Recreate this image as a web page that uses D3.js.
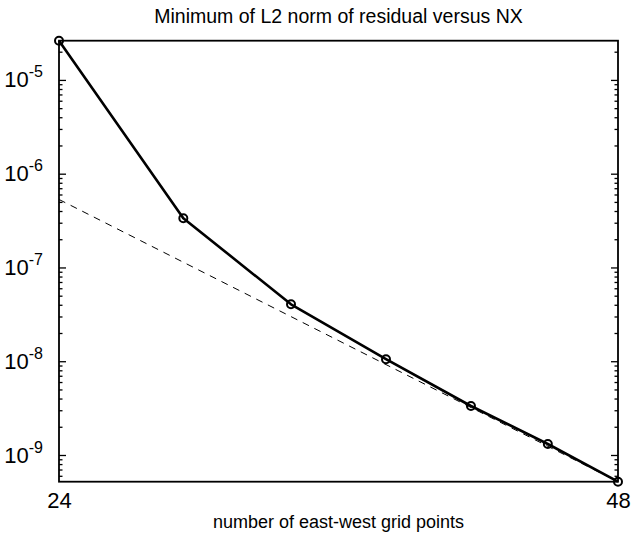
<!DOCTYPE html>
<html>
<head>
<meta charset="utf-8">
<script src="https://cdn.jsdelivr.net/npm/d3@7"></script>
<style>
  body { margin: 0; background: #fff; }
  svg { display: block; font-family: "Liberation Sans", Arial, sans-serif; }
</style>
</head>
<body>
<figure id="chart" style="margin:0"></figure>
<script>
// data
const nx = [24, 28, 32, 36, 40, 44, 48];
const residual = [2.62e-5, 3.35e-7, 4.05e-8, 1.05e-8, 3.33e-9, 1.31e-9, 5.19e-10];
// reference slope line (~ NX^-10)
const refNx = [24, 48];
const refResidual = [5.31e-7, 5.19e-10];
const xTicks = [24, 48];
const yMajorTicks = [1e-9, 1e-8, 1e-7, 1e-6, 1e-5];
const titleText = 'Minimum of L2 norm of residual versus NX';
const xLabelText = 'number of east-west grid points';

const W = 632, H = 537;
const margin = { top: 40.7, right: 14, bottom: 55.3, left: 59 };
const width = W - margin.left - margin.right;
const height = H - margin.top - margin.bottom;

const svg = d3.select('figure#chart')
  .append('svg')
  .attr('width', W)
  .attr('height', H);

const g = svg.append('g')
  .attr('transform', 'translate(' + margin.left + ',' + margin.top + ')');

const x = d3.scaleLog()
  .domain([24, 48])
  .range([0, width]);

const y = d3.scaleLog()
  .domain([d3.min(residual), d3.max(residual)])
  .range([height, 0]);

// minor ticks 2..9 within the domain
const yMinorTicks = [];
for (let e = -10; e <= -4; e++) {
  for (let k = 2; k <= 9; k++) {
    const v = k * Math.pow(10, e);
    if (v >= y.domain()[0] && v <= y.domain()[1]) yMinorTicks.push(v);
  }
}

// minor ticks, both sides, pointing inwards
g.append('g')
  .call(d3.axisLeft(y).tickValues(yMinorTicks).tickSizeInner(-3.5).tickSizeOuter(0).tickFormat(''))
  .call(a => a.select('.domain').remove());
g.append('g')
  .attr('transform', 'translate(' + width + ',0)')
  .call(d3.axisRight(y).tickValues(yMinorTicks).tickSizeInner(-3.5).tickSizeOuter(0).tickFormat(''))
  .call(a => a.select('.domain').remove());

// major ticks with 10^n labels
const yAxis = g.append('g')
  .call(d3.axisLeft(y).tickValues(yMajorTicks).tickSizeInner(-7).tickSizeOuter(0).tickPadding(16))
  .call(a => a.select('.domain').remove());
yAxis.selectAll('text')
  .attr('font-size', 22)
  .attr('fill', '#000')
  .each(function (d) {
    const t = d3.select(this);
    const exp = Math.round(Math.log10(d));
    t.text('');
    t.append('tspan').text('10');
    t.append('tspan').attr('dy', -10).attr('font-size', 16).text(exp);
  });
g.append('g')
  .attr('transform', 'translate(' + width + ',0)')
  .call(d3.axisRight(y).tickValues(yMajorTicks).tickSizeInner(-7).tickSizeOuter(0).tickFormat(''))
  .call(a => a.select('.domain').remove());
g.selectAll('.tick line').attr('stroke', '#000').attr('stroke-width', 1.3);

// x axis: only end labels
const xAxis = g.append('g')
  .attr('transform', 'translate(0,' + height + ')')
  .call(d3.axisBottom(x).tickValues(xTicks).tickFormat(d3.format('d')).tickSize(0).tickPadding(11))
  .call(a => a.select('.domain').remove());
xAxis.selectAll('text')
  .attr('font-size', 22)
  .attr('fill', '#000');

// frame
g.append('rect')
  .attr('x', 0)
  .attr('y', 0)
  .attr('width', width)
  .attr('height', height)
  .attr('fill', 'none')
  .attr('stroke', '#000')
  .attr('stroke-width', 1.8);

// dashed reference line
const refLine = d3.line()
  .x((d, i) => x(refNx[i]))
  .y(d => y(d));
g.append('path')
  .datum(refResidual)
  .attr('d', refLine)
  .attr('fill', 'none')
  .attr('stroke', '#000')
  .attr('stroke-width', 1)
  .attr('stroke-dasharray', '7,6');

// data line
const line = d3.line()
  .x((d, i) => x(nx[i]))
  .y(d => y(d));
g.append('path')
  .datum(residual)
  .attr('d', line)
  .attr('fill', 'none')
  .attr('stroke', '#000')
  .attr('stroke-width', 2.6)
  .attr('stroke-linejoin', 'round');

g.selectAll('circle.pt')
  .data(residual)
  .enter()
  .append('circle')
  .attr('class', 'pt')
  .attr('cx', (d, i) => x(nx[i]))
  .attr('cy', d => y(d))
  .attr('r', 4)
  .attr('fill', 'none')
  .attr('stroke', '#000')
  .attr('stroke-width', 2);

// title and axis label
svg.append('text')
  .attr('x', margin.left + width / 2)
  .attr('y', 23)
  .attr('text-anchor', 'middle')
  .attr('font-size', 19.5)
  .text(titleText);

svg.append('text')
  .attr('x', margin.left + width / 2)
  .attr('y', 528)
  .attr('text-anchor', 'middle')
  .attr('font-size', 18)
  .text(xLabelText);
</script>
</body>
</html>
